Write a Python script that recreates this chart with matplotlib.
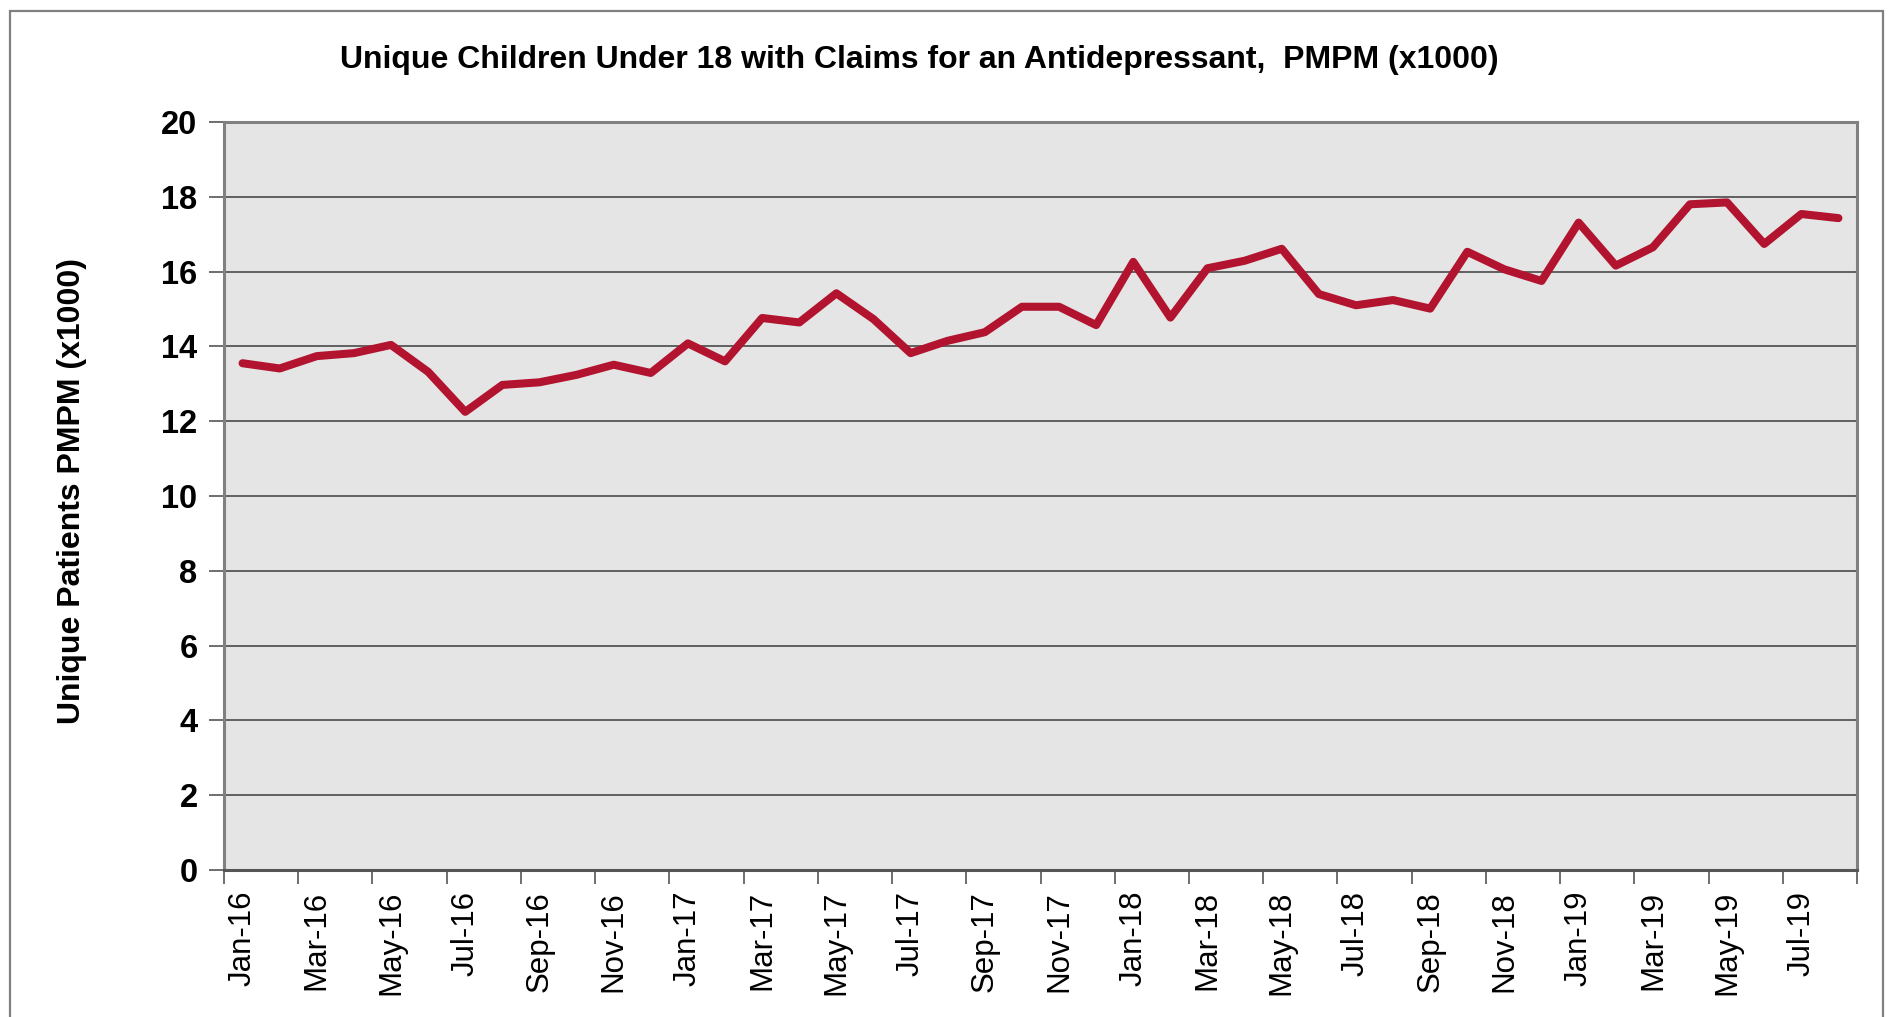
import matplotlib
matplotlib.use('Agg')
import matplotlib.pyplot as plt
from matplotlib.patches import Rectangle
import numpy as np

plt.rcParams['font.family'] = ['Liberation Sans', 'DejaVu Sans']

# Monthly values, Jan-16 .. Aug-19
months = ['Jan-16', 'Feb-16', 'Mar-16', 'Apr-16', 'May-16', 'Jun-16', 'Jul-16', 'Aug-16',
          'Sep-16', 'Oct-16', 'Nov-16', 'Dec-16',
          'Jan-17', 'Feb-17', 'Mar-17', 'Apr-17', 'May-17', 'Jun-17', 'Jul-17', 'Aug-17',
          'Sep-17', 'Oct-17', 'Nov-17', 'Dec-17',
          'Jan-18', 'Feb-18', 'Mar-18', 'Apr-18', 'May-18', 'Jun-18', 'Jul-18', 'Aug-18',
          'Sep-18', 'Oct-18', 'Nov-18', 'Dec-18',
          'Jan-19', 'Feb-19', 'Mar-19', 'Apr-19', 'May-19', 'Jun-19', 'Jul-19', 'Aug-19']
patients = [13.55, 13.41, 13.74, 13.82, 14.04, 13.32, 12.25, 12.97,
            13.04, 13.24, 13.51, 13.29,
            14.08, 13.60, 14.76, 14.64, 15.42, 14.73, 13.82, 14.15,
            14.38, 15.06, 15.06, 14.57,
            16.26, 14.77, 16.09, 16.29, 16.61, 15.40, 15.10, 15.24,
            15.01, 16.53, 16.06, 15.75,
            17.31, 16.16, 16.65, 17.80, 17.85, 16.74, 17.54, 17.43]

title = 'Unique Children Under 18 with Claims for an Antidepressant,  PMPM (x1000)'
ylabel = 'Unique Patients PMPM (x1000)'

W, H = 1893, 1017
fig = plt.figure(figsize=(W / 100, H / 100), dpi=100)

# outer chart frame (bottom edge runs off the picture)
fig.patches.append(Rectangle((10 / W, -0.05), (1883 - 10) / W, 1.05 - 11 / H,
                             transform=fig.transFigure, fill=False,
                             edgecolor='#808080', linewidth=1.6))

ax = fig.add_axes([224 / W, 1 - 870 / H, (1857 - 224) / W, (870 - 122) / H])
ax.set_facecolor('#E5E5E5')

x = np.arange(len(months))
ax.plot(x, patients, color='#B2132E', linewidth=5.8, solid_joinstyle='round',
        solid_capstyle='round', zorder=3)

ax.set_xlim(-0.5, len(months) - 0.5)
ax.set_ylim(0, 20)

ax.set_yticks(np.arange(0, 21, 2))
ax.grid(axis='y', color='#555555', linewidth=1.3, zorder=1)
ax.tick_params(axis='y', direction='out', length=11, width=1.2, color='#555555',
               pad=8, labelsize=23.5)
for lbl in ax.get_yticklabels():
    lbl.set_fontweight('bold')

# labels every second month, tick marks on the category boundaries
ax.set_xticks(x[::2])
ax.set_xticklabels(months[::2], rotation=90, fontsize=22.5)
ax.tick_params(axis='x', which='major', length=0, pad=15)
ax.set_xticks(np.arange(-0.5, len(months), 2), minor=True)
ax.tick_params(axis='x', which='minor', direction='out', length=10, width=1.2,
               color='#555555')

for side in ['top', 'right', 'left']:
    ax.spines[side].set_color('#808080')
    ax.spines[side].set_linewidth(2.2)
ax.spines['bottom'].set_color('#555555')
ax.spines['bottom'].set_linewidth(2.2)

fig.text(919 / W, 1 - 60 / H, title, ha='center', va='center',
         fontsize=23, fontweight='bold')
fig.text(72 / W, 1 - 491 / H, ylabel, ha='center', va='center', rotation=90,
         fontsize=23, fontweight='bold')

plt.savefig('out.png', dpi=100)
plt.close()
